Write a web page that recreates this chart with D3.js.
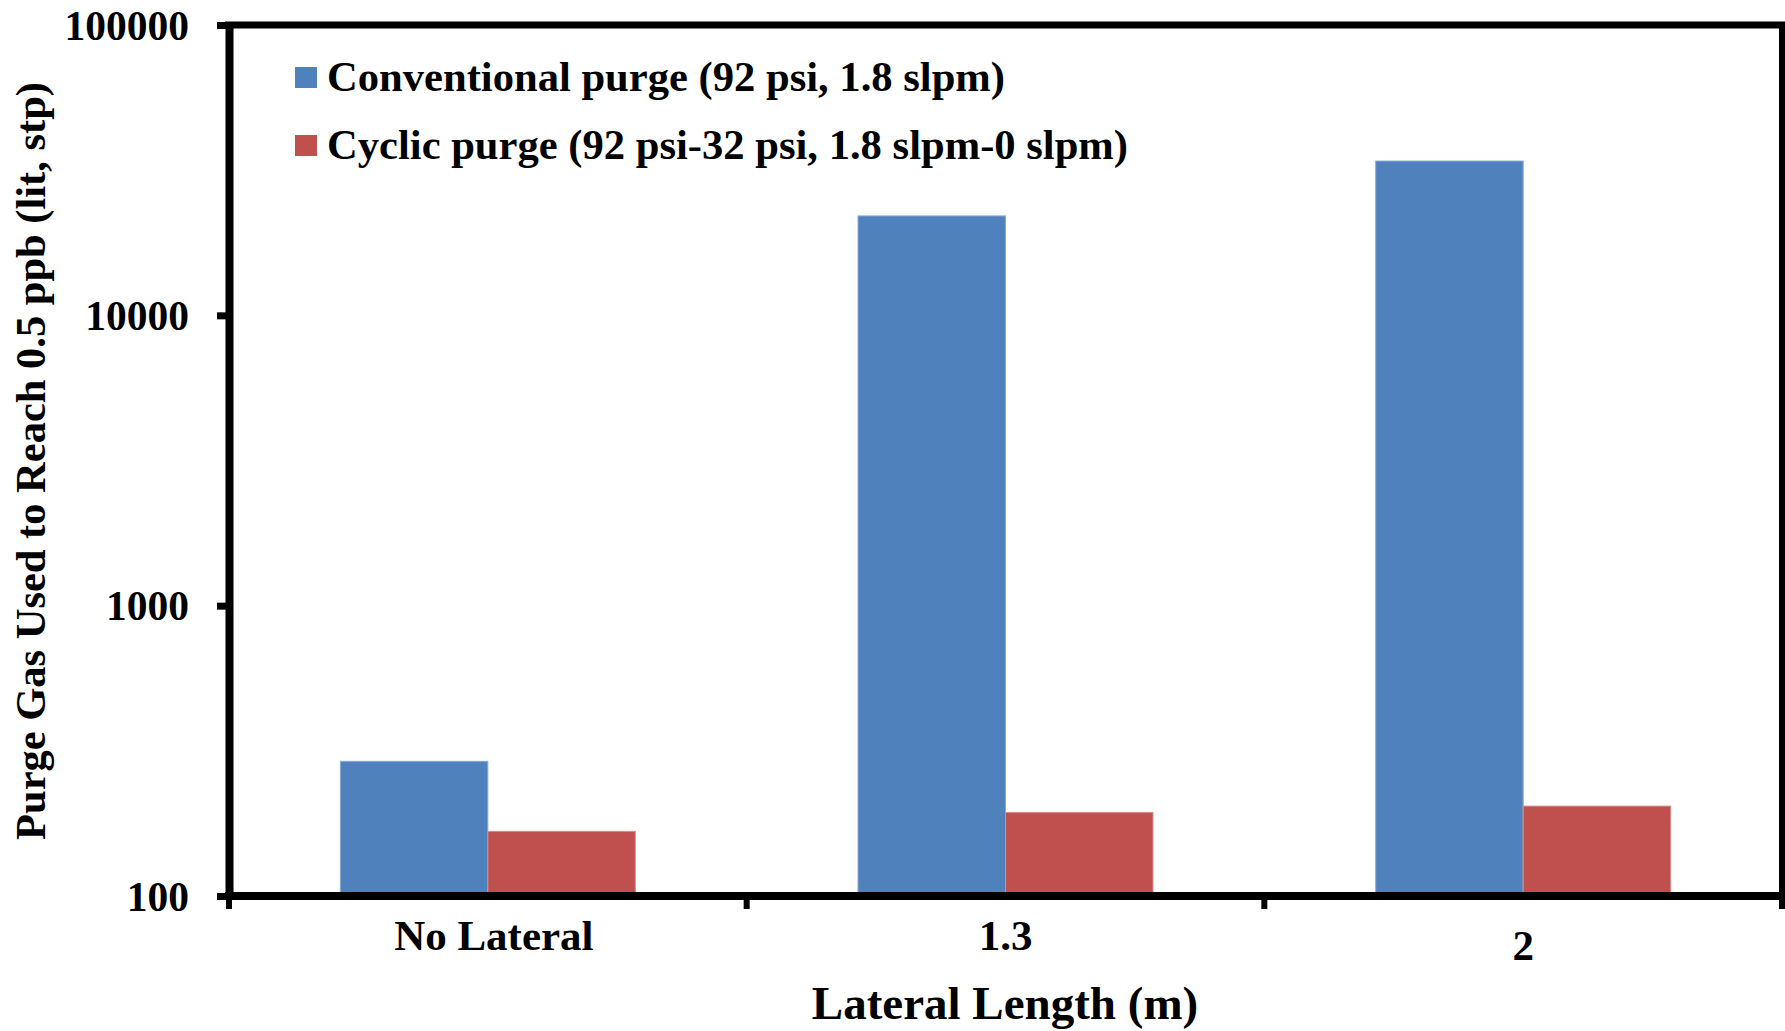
<!DOCTYPE html>
<html>
<head>
<meta charset="utf-8">
<script src="https://cdn.jsdelivr.net/npm/d3@7"></script>
<style>
  body { margin: 0; background: #fff; }
  text { font-family: "Liberation Serif", "Times New Roman", serif; font-weight: bold; fill: #000; }
</style>
</head>
<body>
<script>
// data
var categories = ["No Lateral", "1.3", "2"];
var seriesNames = ["Conventional purge (92 psi, 1.8 slpm)", "Cyclic purge (92 psi-32 psi, 1.8 slpm-0 slpm)"];
var conventional = [291, 22000, 34000];
var cyclic = [167, 194, 204];
var yTicks = [100, 1000, 10000, 100000];
var colors = ["#4F81BD", "#C0504D"];

var width = 1785, height = 1031;
var plotLeft = 229, plotRight = 1782, plotTop = 25, plotBottom = 896;

var svg = d3.select("body").append("svg")
    .attr("width", width)
    .attr("height", height);

var x0 = d3.scaleBand().domain(categories).range([plotLeft, plotRight]).padding(0);
var x1 = d3.scaleBand().domain([0, 1]).range([0, x0.bandwidth()]).paddingInner(0).paddingOuter(0.755);
var y = d3.scaleLog().domain([100, 100000]).range([plotBottom, plotTop]);

var rows = categories.map(function(c, i) { return {cat: c, vals: [conventional[i], cyclic[i]]}; });

// bars
var groups = svg.selectAll("g.grp").data(rows).enter().append("g")
    .attr("class", "grp")
    .attr("transform", function(d) { return "translate(" + x0(d.cat) + ",0)"; });

groups.selectAll("rect").data(function(d) { return d.vals; }).enter().append("rect")
    .attr("x", function(d, i) { return x1(i); })
    .attr("y", function(d) { return y(d); })
    .attr("width", x1.bandwidth())
    .attr("height", function(d) { return plotBottom - y(d); })
    .attr("fill", function(d, i) { return colors[i]; })
    .attr("stroke", function(d, i) { return i == 0 ? "#8aaad6" : "#d88c8a"; })
    .attr("stroke-width", 1);

// frame top + right
svg.append("line")
    .attr("x1", plotLeft - 4).attr("x2", plotRight + 3)
    .attr("y1", plotTop).attr("y2", plotTop)
    .attr("stroke", "#000").attr("stroke-width", 7);
svg.append("line")
    .attr("x1", plotRight).attr("x2", plotRight)
    .attr("y1", plotTop - 3).attr("y2", plotBottom)
    .attr("stroke", "#000").attr("stroke-width", 6);

// y axis
var yAxis = svg.append("g")
    .attr("transform", "translate(" + plotLeft + ",0)")
    .call(d3.axisLeft(y).tickValues(yTicks).tickFormat(d3.format("d")).tickSize(12).tickSizeOuter(0).tickPadding(28));
yAxis.select(".domain").attr("stroke", "#000").attr("stroke-width", 8);
yAxis.selectAll(".tick line").attr("stroke", "#000").attr("stroke-width", 7);
yAxis.selectAll(".tick text")
    .attr("dy", "0.34em")
    .style("font-size", "41.5px");

// x axis
var xAxis = svg.append("g")
    .attr("transform", "translate(0," + plotBottom + ")")
    .call(d3.axisBottom(x0).tickSize(0).tickSizeOuter(0).tickPadding(0));
xAxis.select(".domain").attr("stroke", "#000").attr("stroke-width", 8)
    .attr("d", "M" + (plotLeft - 4) + ",0H" + (plotRight + 3));
xAxis.selectAll(".tick text")
    .attr("dx", function(d) { return d == "No Lateral" ? 6 : 0; })
    .attr("dy", function(d) { return d == "2" ? 64 : 54; })
    .style("font-size", "43px");

// tick marks at category edges
var edges = categories.map(function(c) { return x0(c); }).concat([plotRight]);
xAxis.selectAll("line.edge").data(edges).enter().append("line")
    .attr("class", "edge")
    .attr("x1", function(d) { return d; }).attr("x2", function(d) { return d; })
    .attr("y1", 0).attr("y2", 13)
    .attr("stroke", "#000").attr("stroke-width", 6);

// axis titles
svg.append("text")
    .attr("x", 1005)
    .attr("y", 1019)
    .attr("text-anchor", "middle")
    .style("font-size", "47px")
    .text("Lateral Length (m)");

svg.append("text")
    .attr("transform", "translate(45,461) rotate(-90)")
    .attr("text-anchor", "middle")
    .style("font-size", "42.5px")
    .text("Purge Gas Used to Reach 0.5 ppb (lit, stp)");

// legend
var legend = svg.selectAll("g.leg").data(seriesNames).enter().append("g")
    .attr("class", "leg")
    .attr("transform", function(d, i) { return "translate(295," + (67 + i * 68) + ")"; });
legend.append("rect")
    .attr("width", 22).attr("height", 21)
    .attr("fill", function(d, i) { return colors[i]; });
legend.append("text")
    .attr("x", 32)
    .attr("y", 24)
    .style("font-size", "42.6px")
    .text(function(d) { return d; });
</script>
</body>
</html>
